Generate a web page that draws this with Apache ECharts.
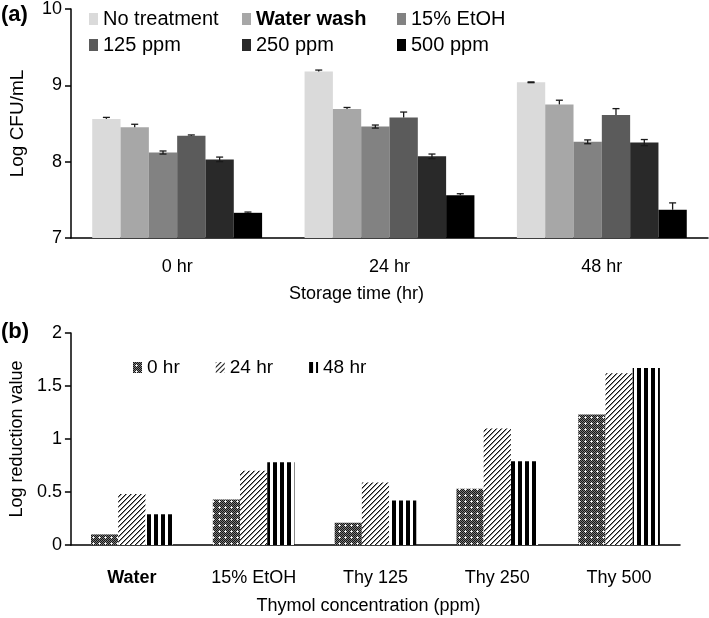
<!DOCTYPE html>
<html><head><meta charset="utf-8">
<script src="https://cdn.jsdelivr.net/npm/echarts@6/dist/echarts.min.js"></script>
<style>html,body{margin:0;padding:0;background:#fff}#c{width:709px;height:618px}</style>
</head><body><div id="c"></div>
<script>
// ---- Panel (a) data ----
const categoriesA = ['0 hr', '24 hr', '48 hr'];
const seriesNamesA = ['No treatment', 'Water wash', '15% EtOH', '125 ppm', '250 ppm', '500 ppm'];
const noTreatment = [8.56, 9.18, 9.04];
const waterWash   = [8.45, 8.69, 8.75];
const etoh15      = [8.12, 8.46, 8.26];
const ppm125      = [8.34, 8.58, 8.61];
const ppm250      = [8.03, 8.07, 8.25];
const ppm500      = [7.33, 7.56, 7.37];
const noTreatmentErrUp = [0.02, 0.02, 0.005];
const waterWashErrUp   = [0.04, 0.02, 0.055];
const etoh15ErrUp      = [0.02, 0.02, 0.025];
const ppm125ErrUp      = [0.01, 0.07, 0.085];
const ppm250ErrUp      = [0.03, 0.03, 0.04];
const ppm500ErrUp      = [0.01, 0.02, 0.09];
const noTreatmentErrDown = [0, 0, 0.005];
const waterWashErrDown   = [0, 0, 0];
const etoh15ErrDown      = [0.02, 0.02, 0.025];
const ppm125ErrDown      = [0, 0, 0];
const ppm250ErrDown      = [0.03, 0.03, 0.04];
const ppm500ErrDown      = [0, 0, 0];
const yTicksA = [7, 8, 9, 10];

// ---- Panel (b) data ----
const categoriesB = ['Water', '15% EtOH', 'Thy 125', 'Thy 250', 'Thy 500'];
const seriesNamesB = ['0 hr', '24 hr', '48 hr'];
const reduction0hr  = [0.10, 0.43, 0.21, 0.53, 1.23];
const reduction24hr = [0.48, 0.70, 0.59, 1.10, 1.62];
const reduction48hr = [0.29, 0.78, 0.42, 0.79, 1.67];
const yTicksB = [0, 0.5, 1, 1.5, 2];

const valuesA = [noTreatment, waterWash, etoh15, ppm125, ppm250, ppm500];
const errUpA = [noTreatmentErrUp, waterWashErrUp, etoh15ErrUp, ppm125ErrUp, ppm250ErrUp, ppm500ErrUp];
const errDownA = [noTreatmentErrDown, waterWashErrDown, etoh15ErrDown, ppm125ErrDown, ppm250ErrDown, ppm500ErrDown];
const valuesB = [reduction0hr, reduction24hr, reduction48hr];

const FONT = "'Liberation Sans', Arial, Helvetica, sans-serif";
const colorsA = ['#dadada', '#a7a7a7', '#828282', '#5b5b5b', '#292929', '#000000'];

function makeTile(w, h, draw) {
  const c = document.createElement('canvas');
  c.width = w; c.height = h;
  const ctx = c.getContext('2d');
  draw(ctx);
  return c;
}
function px(ctx, x, y, col) { ctx.fillStyle = col; ctx.fillRect(x, y, 1, 1); }
const tileDots = makeTile(6, 6, ctx => {
  for (let y = 0; y < 6; y++) for (let x = 0; x < 6; x++) px(ctx, x, y, (x + y) % 2 ? '#7a7a7a' : '#151515');
  px(ctx, 3, 3, '#ffffff'); px(ctx, 2, 3, '#d8d8d8'); px(ctx, 4, 3, '#d8d8d8'); px(ctx, 3, 2, '#d8d8d8'); px(ctx, 3, 4, '#d8d8d8');
});
const tileDiag = makeTile(5, 5, ctx => {
  ctx.fillStyle = '#ffffff'; ctx.fillRect(0, 0, 5, 5);
  for (let i = 0; i < 5; i++) { px(ctx, i, 4 - i, '#111111'); px(ctx, i, (5 - i) % 5, '#8a8a8a'); }
});
const tileVert = makeTile(7, 4, ctx => {
  ctx.fillStyle = '#ffffff'; ctx.fillRect(0, 0, 7, 4);
  ctx.fillStyle = '#000000'; ctx.fillRect(0, 0, 4, 4);
});
const patternsB = [tileDots, tileDiag, tileVert];

const chart = echarts.init(document.getElementById('c'), null, { renderer: 'canvas' });

const series = [];
seriesNamesA.forEach((name, i) => {
  series.push({
    name, type: 'bar', xAxisIndex: 0, yAxisIndex: 0,
    data: valuesA[i], barGap: '0%', barCategoryGap: '20%',
    itemStyle: { color: colorsA[i] }, emphasis: { disabled: true }
  });
});
const errData = [];
seriesNamesA.forEach((name, i) => {
  categoriesA.forEach((c, j) => errData.push([j, valuesA[i][j], errUpA[i][j], errDownA[i][j], i]));
});
series.push({
  type: 'custom', xAxisIndex: 0, yAxisIndex: 0, z: 10,
  data: errData, encode: { x: 0, y: 1 },
  renderItem: function (params, api) {
    const c = api.value(0), m = api.value(1), up = api.value(2), dn = api.value(3), s = api.value(4);
    const bw = api.size([1, 0])[0];
    const w = bw * 0.8 / 6;
    const x = api.coord([c, m])[0] - bw * 0.4 + w * (s + 0.5);
    const yT = api.coord([c, m + up])[1];
    const yB = api.coord([c, m - dn])[1];
    const st = { stroke: '#1a1a1a', lineWidth: 1.3 };
    const ch = [
      { type: 'line', shape: { x1: x, y1: yT, x2: x, y2: yB }, style: st },
      { type: 'line', shape: { x1: x - 3.5, y1: yT, x2: x + 3.5, y2: yT }, style: st }
    ];
    if (dn > 0) ch.push({ type: 'line', shape: { x1: x - 3.5, y1: yB, x2: x + 3.5, y2: yB }, style: st });
    return { type: 'group', children: ch };
  }
});
seriesNamesB.forEach((name, i) => {
  series.push({
    name, type: 'bar', xAxisIndex: 1, yAxisIndex: 1,
    data: valuesB[i], barGap: '0%', barCategoryGap: '33%',
    itemStyle: { color: { image: patternsB[i], repeat: 'repeat' } }, emphasis: { disabled: true }
  });
});

const legendText = {
  fontFamily: FONT, fontSize: 20, color: '#000',
  rich: { b: { fontFamily: FONT, fontSize: 20, fontWeight: 'bold', color: '#000' } }
};
const legendFmt = n => n === 'Water wash' ? '{b|' + n + '}' : n;
const legendBase = { orient: 'vertical', top: 9, itemGap: 6, itemWidth: 9, itemHeight: 12, itemTextGap: 4, icon: 'rect', textStyle: legendText, formatter: legendFmt, selectedMode: false, padding: 0 };

const axisLine = { show: true, lineStyle: { color: '#000', width: 1.5 } };
const lbl = { fontFamily: FONT, fontSize: 18, color: '#000' };
const option = {
  animation: false,
  textStyle: { fontFamily: FONT },
  title: [
    { text: '(a)', left: 1, top: 4, padding: 0, textStyle: { fontFamily: FONT, fontSize: 22, fontWeight: 'bold', color: '#000' } },
    { text: '(b)', left: 1, top: 321, padding: 0, textStyle: { fontFamily: FONT, fontSize: 22, fontWeight: 'bold', color: '#000' } }
  ],
  legend: [
    Object.assign({}, legendBase, { left: 89, data: ['No treatment', '125 ppm'] }),
    Object.assign({}, legendBase, { left: 242, data: ['Water wash', '250 ppm'] }),
    Object.assign({}, legendBase, { left: 397, data: ['15% EtOH', '500 ppm'] }),
    { orient: 'horizontal', left: 133, top: 358, itemGap: 36, itemWidth: 9, itemHeight: 11, icon: 'rect', itemTextGap: 5, padding: 0, selectedMode: false, data: seriesNamesB, textStyle: { fontFamily: FONT, fontSize: 19, color: '#000' } }
  ],
  grid: [
    { left: 63, top: 9, width: 645, height: 229 },
    { left: 63, top: 333, width: 617, height: 212 }
  ],
  xAxis: [
    { type: 'category', gridIndex: 0, data: categoriesA, axisLine, axisTick: { show: false },
      axisLabel: Object.assign({ margin: 20 }, lbl),
      name: 'Storage time (hr)', nameLocation: 'middle', nameGap: 47,
      nameTextStyle: Object.assign({ padding: [0, 66, 0, 0] }, lbl) },
    { type: 'category', gridIndex: 1, data: categoriesB, axisLine, axisTick: { show: false },
      axisLabel: Object.assign({ margin: 24,
        formatter: v => v === 'Water' ? '{b|' + v + '}' : v,
        rich: { b: { fontFamily: FONT, fontSize: 18, fontWeight: 'bold', color: '#000' } } }, lbl),
      name: 'Thymol concentration (ppm)', nameLocation: 'middle', nameGap: 52,
      nameTextStyle: Object.assign({ padding: [0, 14, 0, 0] }, lbl) }
  ],
  yAxis: [
    { type: 'value', gridIndex: 0, min: yTicksA[0], max: yTicksA[yTicksA.length - 1], interval: 1,
      axisLine, axisTick: { show: true, length: 6, lineStyle: { color: '#000', width: 1.5 } }, splitLine: { show: false },
      axisLabel: Object.assign({ margin: 9 }, lbl),
      name: 'Log CFU/mL', nameLocation: 'middle', nameGap: 44,
      nameTextStyle: Object.assign({}, lbl, { fontSize: 19 }) },
    { type: 'value', gridIndex: 1, min: yTicksB[0], max: yTicksB[yTicksB.length - 1], interval: 0.5,
      axisLine, axisTick: { show: true, length: 6, lineStyle: { color: '#000', width: 1.5 } }, splitLine: { show: false },
      axisLabel: Object.assign({ margin: 9 }, lbl),
      name: 'Log reduction value', nameLocation: 'middle', nameGap: 44,
      nameTextStyle: lbl }
  ],
  series
};
chart.setOption(option);
</script></body></html>
